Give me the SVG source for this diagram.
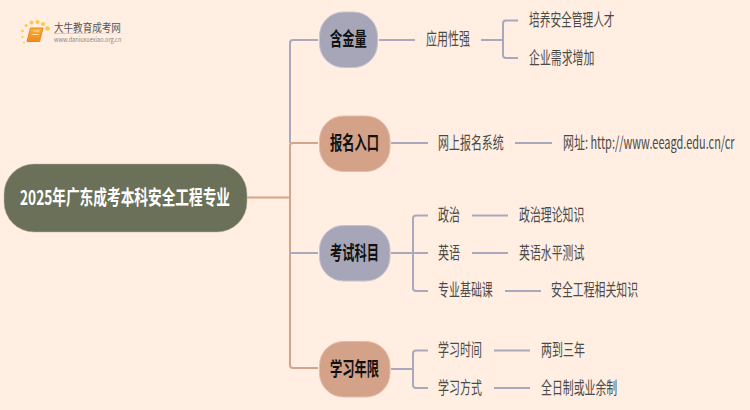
<svg xmlns="http://www.w3.org/2000/svg" width="750" height="410" viewBox="0 0 750 410">
<defs>
<linearGradient id="fade"><stop offset="0" stop-color="#cfc6be"/><stop offset="1" stop-color="#ffeee1"/></linearGradient>
<linearGradient id="book" x1="0" y1="0" x2="0" y2="1"><stop offset="0" stop-color="#fbb13a"/><stop offset="1" stop-color="#ee8a1c"/></linearGradient>
<style>
text{font-family:"Noto Sans CJK SC","Liberation Sans",sans-serif;dominant-baseline:central}
.t{font-size:17px;fill:#4a4a48}
.h{font-size:19px;font-weight:700;fill:#111}
.c{fill:none;stroke:#a9a9bc;stroke-width:2}
.p{fill:none;stroke:#d4a58c;stroke-width:2}
.g{fill:#a6a6b8;stroke:#c4c4d0}
.o{fill:#d3a288;stroke:#e4bda8}
.dot{fill:#f9c94e}
</style>
</defs>
<rect width="750" height="410" fill="#ffeee1"/>
<g id="logo">
<circle class="dot" cx="47.500" cy="28.500" r="2.300"/><circle class="dot" cx="43" cy="24" r="2"/><circle class="dot" cx="37.500" cy="22" r="2"/><circle class="dot" cx="31.500" cy="22.500" r="2"/><circle class="dot" cx="26" cy="25.500" r="1.500"/><circle class="dot" cx="22.500" cy="31" r="1.300"/><circle class="dot" cx="22.500" cy="37" r="1.100"/><circle class="dot" cx="24" cy="42.500" r="0.900"/>
<path d="M30.500 28H43L39.500 41.500H27z" fill="url(#book)" stroke="#e8861a" stroke-width="1"/>
<path d="M33.500 31h6M32.500 34.500h6" stroke="#ffe3a8" stroke-width="1.200" fill="none"/>
<text transform="translate(54 27) scale(0.87 1)" font-size="11px" fill="#555">大牛教育成考网</text>
<text transform="translate(54 39) scale(0.86 1)" font-size="6.500px" fill="#888">www.daniuxuexiao.org.cn</text>
<rect x="54" y="33" width="78" height="1" fill="url(#fade)"/>
</g>
<g id="connectors">
<path class="p" d="M247 197.500H290"/>
<path class="c" d="M290 143V43q0-3 3-3H318"/>
<path class="p" d="M318 143H293q-3 0-3 3V365q0 3 3 3H318"/>
<path class="c" d="M290 253H318"/>
<path class="c" d="M379 40H415M481 40H503M518 20.500H506q-3 0-3 3V55q0 3 3 3H518"/>
<path class="c" d="M391 143H428M515 143H552"/>
<path class="c" d="M391 253H428M428 215.500H416q-3 0-3 3V288q0 3 3 3H428M472 215.500H508M472 253H508M505 291H541"/>
<path class="c" d="M391 369H413M428 350.500H416q-3 0-3 3V385q0 3 3 3H428M494 350.500H530M494 388H530"/>
</g>
<g id="root"><rect x="4" y="164" width="243" height="68" rx="30" fill="#6b7159" stroke="#b5b5a0" stroke-width="0.500"/><text transform="translate(20 196) scale(0.684 1)" font-size="20px" font-weight="700" fill="#fff">2025年广东成考本科安全工程专业</text></g>
<g id="n1"><rect class="g" x="319.500" y="12" width="58" height="55.500" rx="24"/><text class="h" transform="translate(330 38) scale(0.645 1)">含金量</text></g>
<g id="n2"><rect class="o" x="319.500" y="116" width="70.500" height="55.500" rx="24"/><text class="h" transform="translate(330 142) scale(0.645 1)">报名入口</text></g>
<g id="n3"><rect class="g" x="319.500" y="225.500" width="70.500" height="55.500" rx="24"/><text class="h" transform="translate(330 252) scale(0.645 1)">考试科目</text></g>
<g id="n4"><rect class="o" x="319.500" y="341.500" width="70.500" height="55.500" rx="24"/><text class="h" transform="translate(330 368) scale(0.645 1)">学习年限</text></g>
<g id="l1"><text class="t" transform="translate(426 37.500) scale(0.645 1)">应用性强</text></g>
<g id="l2" transform="translate(529 19) scale(0.63 1)"><text class="t">培养安全管理人才</text></g>
<g id="l3"><text class="t" transform="translate(529 56.500) scale(0.64 1)">企业需求增加</text></g>
<g id="l4"><text class="t" transform="translate(438 141.500) scale(0.645 1)">网上报名系统</text></g>
<g id="l5"><text class="t" transform="translate(563 141.500) scale(0.645 1)">网址: http://www.eeagd.edu.cn/cr</text></g>
<g id="l6"><text class="t" transform="translate(438 213.500) scale(0.645 1)">政治</text></g>
<g id="l7"><text class="t" transform="translate(519 213.500) scale(0.64 1)">政治理论知识</text></g>
<g id="l8"><text class="t" transform="translate(438 251.500) scale(0.645 1)">英语</text></g>
<g id="l9"><text class="t" transform="translate(519 251.500) scale(0.64 1)">英语水平测试</text></g>
<g id="l10"><text class="t" transform="translate(438 288.500) scale(0.645 1)">专业基础课</text></g>
<g id="l11"><text class="t" transform="translate(551 288.500) scale(0.64 1)">安全工程相关知识</text></g>
<g id="l12"><text class="t" transform="translate(438 348.500) scale(0.645 1)">学习时间</text></g>
<g id="l13"><text class="t" transform="translate(541 348.500) scale(0.645 1)">两到三年</text></g>
<g id="l14"><text class="t" transform="translate(438 386.500) scale(0.645 1)">学习方式</text></g>
<g id="l15"><text class="t" transform="translate(541 386.500) scale(0.64 1)">全日制或业余制</text></g>
</svg>
